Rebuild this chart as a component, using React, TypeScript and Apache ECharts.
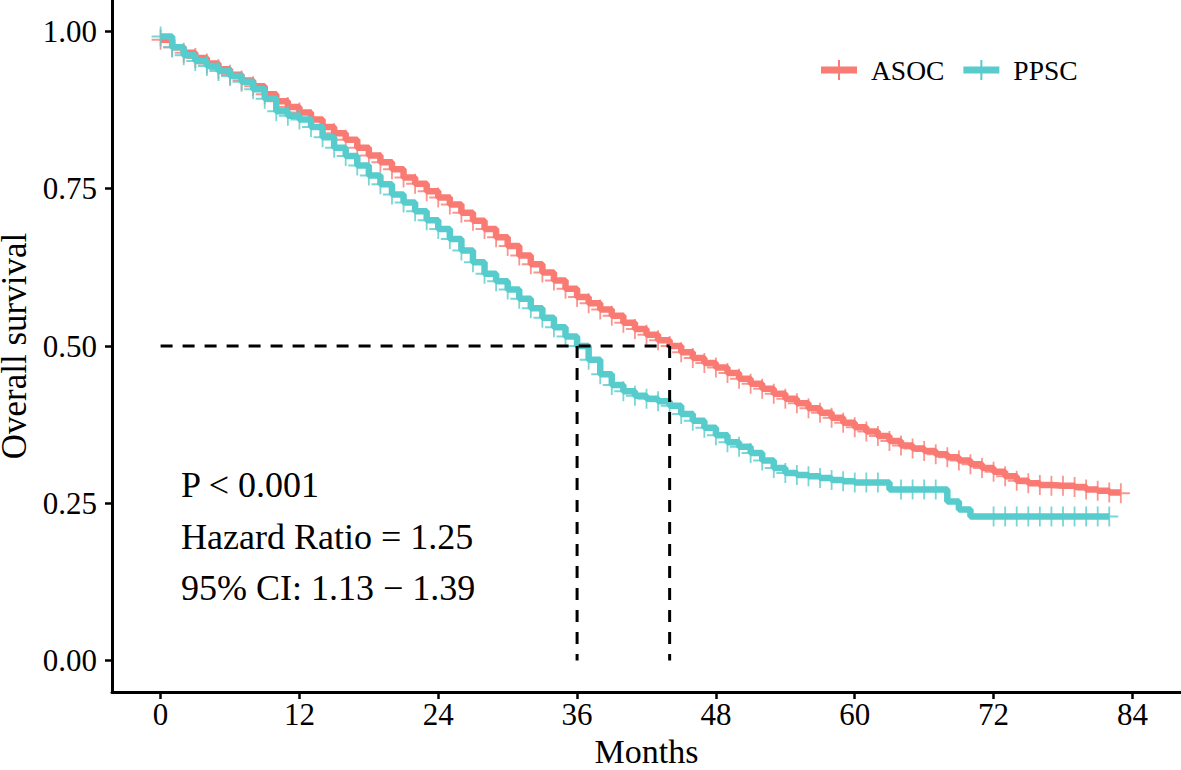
import React, { useEffect, useRef } from "react";
import * as echarts from "echarts";

// ---- data ----
const asocTimes = [
  0, 1, 2, 3, 4, 5, 6, 7, 8, 9, 10, 11, 12, 13, 14, 15, 16, 17, 18, 19, 20,
  21, 22, 23, 24, 25, 26, 27, 28, 29, 30, 31, 32, 33, 34, 35, 36, 37, 38, 39,
  40, 41, 42, 43, 44, 45, 46, 47, 48, 49, 50, 51, 52, 53, 54, 55, 56, 57, 58,
  59, 60, 61, 62, 63, 64, 65, 66, 67, 68, 69, 70, 71, 72, 73, 74, 75, 76, 77,
  78, 79, 80, 81, 82, 83,
];
const asocSurv = [
  0.987, 0.975, 0.966, 0.958, 0.949, 0.94, 0.931, 0.922, 0.913, 0.9, 0.889,
  0.88, 0.871, 0.86, 0.848, 0.838, 0.828, 0.815, 0.803, 0.792, 0.781, 0.768,
  0.758, 0.746, 0.736, 0.725, 0.712, 0.699, 0.686, 0.673, 0.659, 0.644, 0.63,
  0.617, 0.604, 0.591, 0.578, 0.568, 0.558, 0.548, 0.537, 0.527, 0.518, 0.509,
  0.5, 0.49, 0.481, 0.473, 0.466, 0.457, 0.448, 0.44, 0.432, 0.424, 0.416,
  0.409, 0.401, 0.394, 0.386, 0.378, 0.371, 0.364, 0.357, 0.349, 0.342, 0.337,
  0.333, 0.328, 0.323, 0.318, 0.312, 0.306, 0.3, 0.293, 0.286, 0.282, 0.279,
  0.278, 0.278, 0.276, 0.272, 0.27, 0.267, 0.266,
];
const ppscTimes = [
  0, 1, 2, 3, 4, 5, 6, 7, 8, 9, 10, 11, 12, 13, 14, 15, 16, 17, 18, 19, 20,
  21, 22, 23, 24, 25, 26, 27, 28, 29, 30, 31, 32, 33, 34, 35, 36, 37, 38, 39,
  40, 41, 42, 43, 44, 45, 46, 47, 48, 49, 50, 51, 52, 53, 54, 55, 56, 57, 58,
  59, 60, 61, 62, 63, 64, 65, 66, 67, 68, 69, 70, 71, 72, 73, 74, 75, 76, 77,
  78, 79, 80, 81, 82,
];
const ppscSurv = [
  0.992, 0.975, 0.962, 0.953, 0.945, 0.937, 0.929, 0.92, 0.908, 0.893, 0.873,
  0.866, 0.86, 0.848, 0.832, 0.815, 0.802, 0.787, 0.771, 0.757, 0.741, 0.728,
  0.714, 0.7, 0.686, 0.67, 0.652, 0.633, 0.615, 0.603, 0.59, 0.575, 0.56,
  0.545, 0.53, 0.515, 0.5, 0.478, 0.455, 0.438, 0.428, 0.421, 0.416, 0.412,
  0.405, 0.392, 0.381, 0.37, 0.358, 0.347, 0.34, 0.33, 0.318, 0.306, 0.298,
  0.295, 0.293, 0.29, 0.287, 0.285, 0.283, 0.283, 0.283, 0.272, 0.272, 0.272,
  0.272, 0.272, 0.253, 0.24, 0.229, 0.229, 0.229, 0.229, 0.229, 0.229, 0.229,
  0.229, 0.229, 0.229, 0.229, 0.229, 0.229,
];
// months without a censor mark on the PPSC curve
const ppscNoCensor = [63, 68, 69, 70, 71];

const medianLevel = 0.5;
const medianTimes = [36, 44]; // PPSC, ASOC

const xTicks = [0, 12, 24, 36, 48, 60, 72, 84];
const yTicks = [0, 0.25, 0.5, 0.75, 1];

const groupNames = ["ASOC", "PPSC"];
const annotations = ["P < 0.001", "Hazard Ratio = 1.25", "95% CI: 1.13 \u2212 1.39"];

const RED = "#F97B73";
const TEAL = "#58CCCC";
const FONT = "'Liberation Serif', 'Times New Roman', serif";

const PLUS = "path://M9,0 L11,0 L11,20 L9,20 Z M0,9 L20,9 L20,11 L0,11 Z";
const LEGEND_ICON = "path://M0,6.5 L36,6.5 L36,13.5 L0,13.5 Z M17,0 L19,0 L19,20 L17,20 Z";

export default function App() {
  const ref = useRef<HTMLDivElement>(null);

  useEffect(() => {
    if (!ref.current) return;
    const chart = echarts.init(ref.current, null, { renderer: "svg" });

    const asocData = asocTimes.map((t, i) => [t, asocSurv[i]]);
    const ppscData = ppscTimes.map((t, i) => [t, ppscSurv[i]]);
    const asocCensor = asocData;
    const ppscCensor = ppscData.filter((d) => !ppscNoCensor.includes(d[0]));

    const dashStyle = { color: "#000", width: 3, type: [12, 10] as any };
    const dashSeries: any[] = [
      {
        type: "line",
        silent: true,
        symbol: "none",
        z: 5,
        lineStyle: dashStyle,
        data: [
          [0, medianLevel],
          [Math.max(...medianTimes), medianLevel],
        ],
      },
      ...medianTimes.map((t) => ({
        type: "line",
        silent: true,
        symbol: "none",
        z: 5,
        lineStyle: dashStyle,
        data: [
          [t, medianLevel],
          [t, 0],
        ],
      })),
    ];

    chart.setOption({
      animation: false,
      backgroundColor: "#fff",
      textStyle: { fontFamily: FONT },
      grid: {
        left: 112,
        right: 0,
        top: 0,
        bottom: 78,
        containLabel: false,
        outerBoundsMode: "none",
      },
      legend: {
        left: 821,
        top: 56,
        padding: 0,
        itemWidth: 36,
        itemHeight: 20,
        itemGap: 19,
        selectedMode: false,
        data: [
          { name: groupNames[0], icon: LEGEND_ICON, itemStyle: { color: RED } },
          { name: groupNames[1], icon: LEGEND_ICON, itemStyle: { color: TEAL } },
        ],
        textStyle: {
          fontFamily: FONT,
          fontSize: 27.5,
          color: "#000",
          padding: [0, 0, 0, 9],
        },
      },
      xAxis: {
        type: "value",
        min: -4.2,
        max: 88.2,
        name: "Months",
        nameLocation: "middle",
        nameGap: 55,
        nameTextStyle: {
          fontFamily: FONT,
          fontSize: 34,
          lineHeight: 34,
          color: "#000",
          verticalAlign: "middle",
        },
        axisLine: { show: true, onZero: false, lineStyle: { color: "#000", width: 3 } },
        axisTick: {
          show: true,
          length: 7,
          lineStyle: { color: "#000", width: 2.5 },
          customValues: xTicks,
        },
        axisLabel: {
          fontFamily: FONT,
          fontSize: 31,
          color: "#000",
          margin: 7,
          customValues: xTicks,
        },
        splitLine: { show: false },
      },
      yAxis: {
        type: "value",
        min: -0.05,
        max: 1.05,
        name: "Overall survival",
        nameLocation: "middle",
        nameGap: 86,
        nameRotate: 90,
        nameTextStyle: {
          fontFamily: FONT,
          fontSize: 35,
          lineHeight: 35,
          color: "#000",
          verticalAlign: "middle",
        },
        axisLine: { show: true, onZero: false, lineStyle: { color: "#000", width: 3 } },
        axisTick: {
          show: true,
          length: 7,
          lineStyle: { color: "#000", width: 2.5 },
          customValues: yTicks,
        },
        axisLabel: {
          fontFamily: FONT,
          fontSize: 31,
          color: "#000",
          margin: 15,
          customValues: yTicks,
          formatter: (v: number) => v.toFixed(2),
        },
        splitLine: { show: false },
      },
      graphic: annotations.map((txt, i) => ({
        type: "text",
        left: 181,
        top: 467 + i * 51.5,
        silent: true,
        style: {
          text: txt,
          fontFamily: FONT,
          fontSize: 36,
          fill: "#000",
        },
      })),
      series: [
        {
          name: groupNames[0],
          type: "line",
          step: "end",
          symbol: "none",
          z: 2,
          itemStyle: { color: RED },
          lineStyle: { color: RED, width: 6.5 },
          data: asocData,
        },
        {
          name: groupNames[0],
          type: "scatter",
          symbol: PLUS,
          symbolSize: [18, 20],
          z: 2,
          itemStyle: { color: RED },
          data: asocCensor,
        },
        {
          name: groupNames[1],
          type: "line",
          step: "end",
          symbol: "none",
          z: 3,
          itemStyle: { color: TEAL },
          lineStyle: { color: TEAL, width: 6.5 },
          data: ppscData,
        },
        {
          name: groupNames[1],
          type: "scatter",
          symbol: PLUS,
          symbolSize: [18, 20],
          z: 3,
          itemStyle: { color: TEAL },
          data: ppscCensor,
        },
        ...dashSeries,
      ],
    });

    return () => chart.dispose();
  }, []);

  return (
    <div
      ref={ref}
      style={{ position: "absolute", left: 0, top: 0, width: 1181, height: 770, background: "#fff" }}
    />
  );
}
